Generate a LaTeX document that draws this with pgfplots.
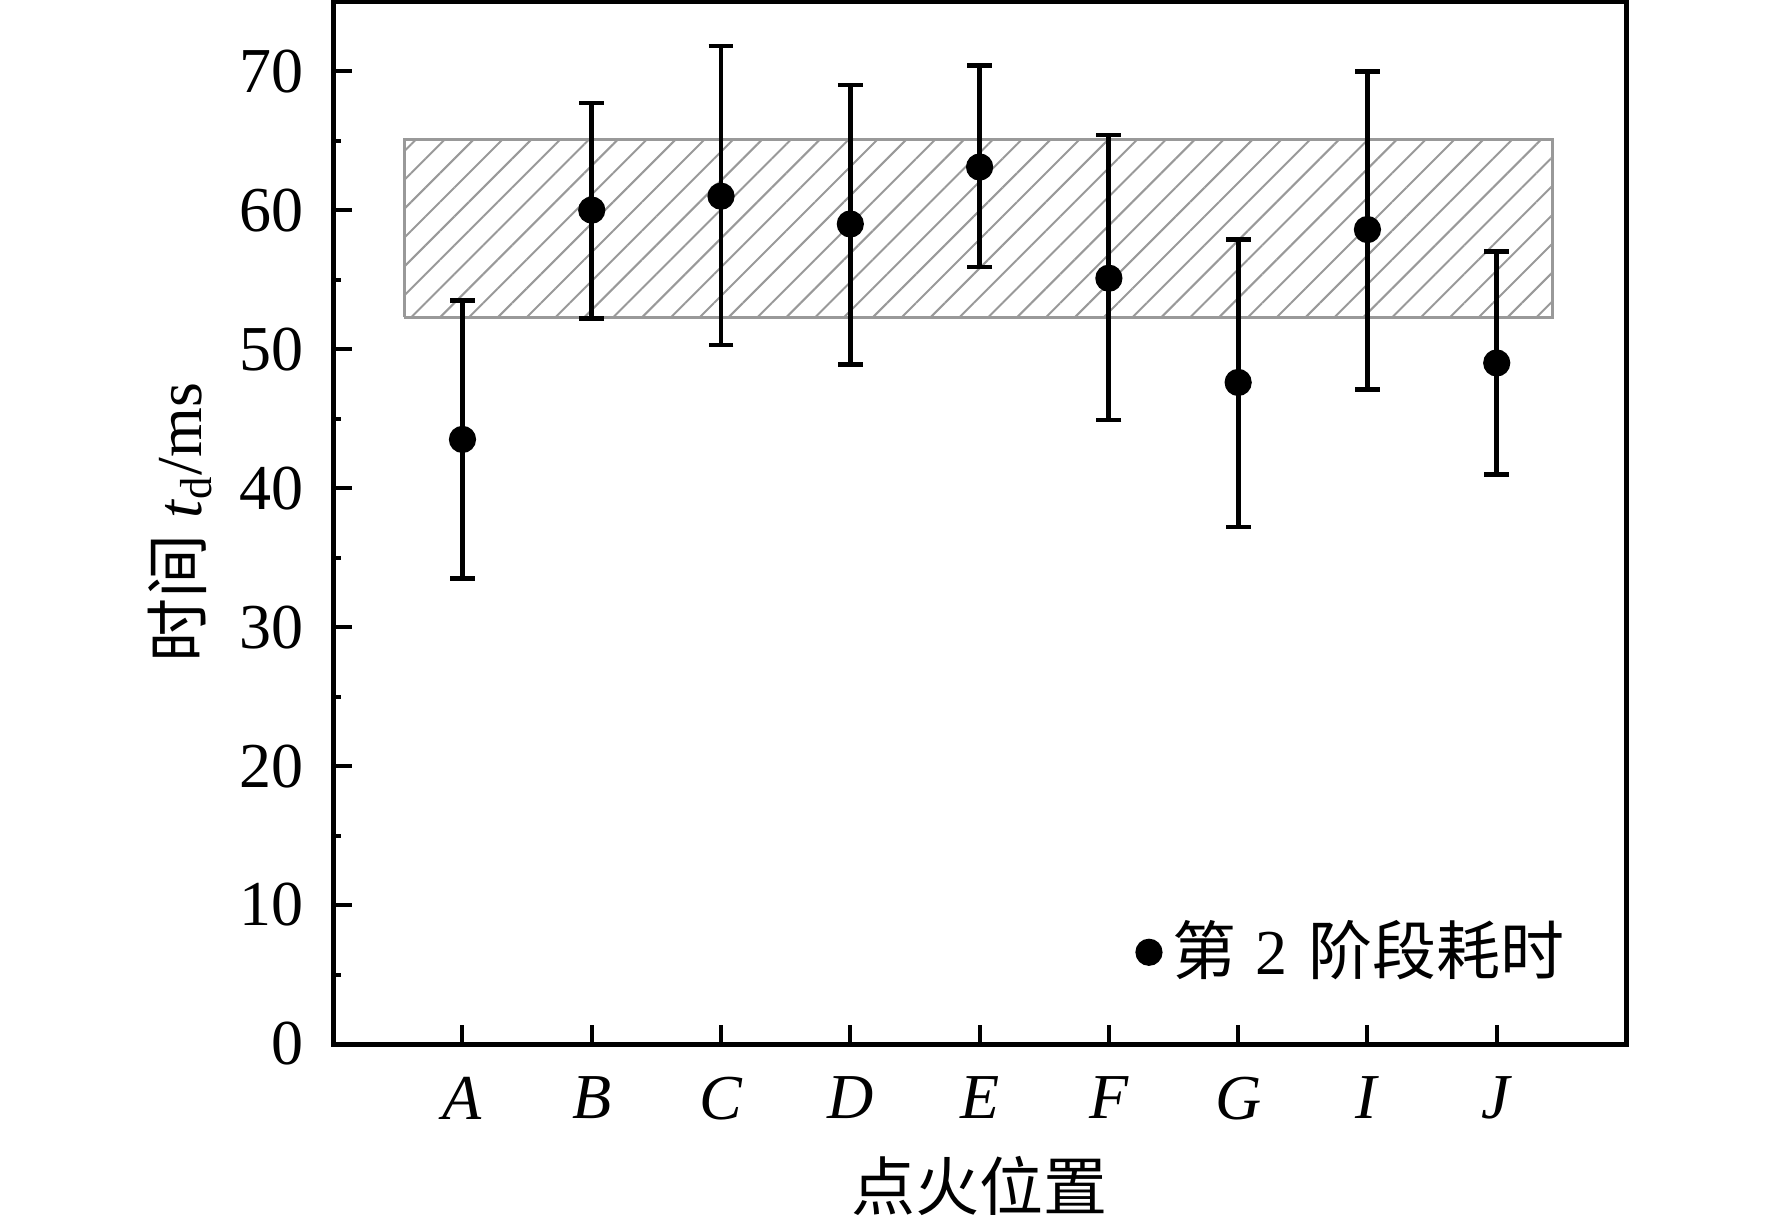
\documentclass[border=0pt]{standalone}
\usepackage{fontspec}
\setmainfont{Liberation Serif}
\newfontfamily\cjk{Noto Sans CJK SC}
\usepackage{pgfplots}
\usepackage{pgfplotstable}
\pgfplotsset{compat=1.18}
\usetikzlibrary{patterns.meta}

\pgfplotstableread{
x y ep em
0 43.5 10.0 10.0
1 60.0 7.7 7.8
2 61.0 10.8 10.7
3 59.0 10.0 10.1
4 63.1 7.3 7.2
5 55.1 10.3 10.2
6 47.6 10.3 10.4
7 58.6 11.4 11.5
8 49.0 8.0 8.0
}\datatab

\begin{document}
\fontsize{16}{19}\selectfont
\begin{tikzpicture}
\path[use as bounding box] (-83.3pt,-43.75pt) rectangle (359.7pt,261.0pt);
\begin{axis}[
  at={(0pt,0pt)}, anchor=south west,
  width=323.2pt, height=260.6pt, scale only axis,
  xmin=-1, xmax=9, ymin=0, ymax=75,
  axis line style={line width=1.25pt},
  xtick={0,1,2,3,4,5,6,7,8},
  xticklabels={\textit{A},\textit{B},\textit{C},\textit{D},\textit{E},\textit{F},\textit{G},\textit{I},\textit{J}},
  ytick={0,10,20,30,40,50,60,70},
  minor ytick={5,15,25,35,45,55,65},
  tick align=inside,
  xtick pos=bottom, ytick pos=left,
  major tick length=4.8pt, minor tick length=2pt,
  every tick/.style={black, line width=1pt},
  /pgf/number format/assume math mode=true,
  tick label style={font=\fontsize{16}{19}\selectfont},
  yticklabel style={xshift=-2pt},
  xticklabel style={yshift=-2.7pt},
  label style={font=\fontsize{16}{19}\selectfont},
  xlabel={{\cjk 点火位置}},
  ylabel={{\cjk 时间} \textit{t}\textsubscript{d}/ms},
  xlabel style={at={(axis description cs:0.5,-0.1362)}, anchor=center},
  ylabel style={at={(axis description cs:-0.1185,0.5)}, anchor=center},
  legend style={at={(axis description cs:0.9528,0.088)}, anchor=east,
    draw=none, fill=none, inner sep=0pt, outer sep=0pt,
    nodes={inner sep=0pt}, column sep=0pt,
    font=\fontsize{16}{19}\selectfont},
]
\addplot[draw=gray!80, line width=0.7pt,
  pattern={Lines[angle=45, distance=5.1pt, line width=0.5pt]},
  pattern color=gray!80, forget plot]
  coordinates {(-0.45,52.3) (8.43,52.3) (8.43,65.1) (-0.45,65.1) (-0.45,52.3)};
\addplot[only marks, black, mark=*, mark size=3.2pt, mark options={solid, fill=black},
  legend image code/.code={\fill[black] (0pt,0pt) circle (3.2pt); \path[draw=none,fill=none] (0pt,-3.2pt) rectangle (6pt,3.2pt);},
  error bars/.cd, y dir=both, y explicit,
  error bar style={line width=1.2pt, black},
  error mark options={rotate=90, line width=1.2pt, mark size=3.1pt, black}]
  table[x=x, y=y, y error plus=ep, y error minus=em] {\datatab};
\addlegendentry{{\cjk 第}\hspace{4.6pt}2\hspace{5.4pt}{\cjk 阶段耗时}}
\end{axis}
\end{tikzpicture}
\end{document}
